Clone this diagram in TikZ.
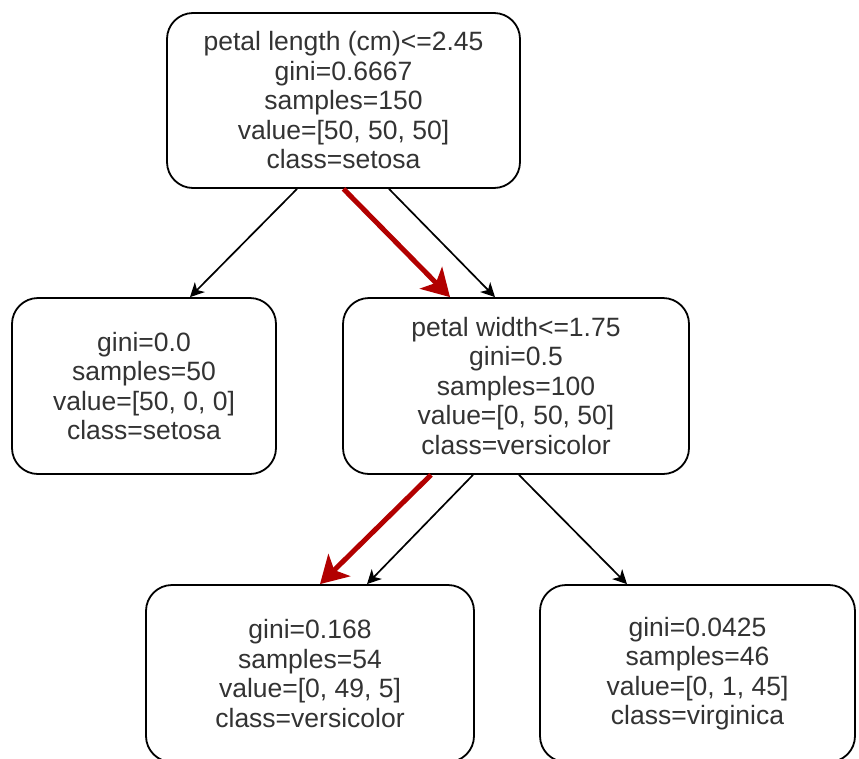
\documentclass[tikz,border=0pt]{standalone}
\usepackage{fontspec}
\setmainfont{Liberation Sans}
\usetikzlibrary{arrows.meta}
\definecolor{pathred}{HTML}{B20000}
\definecolor{txt}{HTML}{333333}
\tikzset{
  treenode/.style={draw=black, line width=1.8pt, rounded corners=26pt, fill=white,
    inner sep=0pt, align=center, text=txt,
    font=\fontsize{26.5}{29.5}\selectfont},
  edge/.style={draw=black, line width=1.7pt, -{Stealth[length=14pt,width=14pt,inset=4pt]}},
  hot/.style={draw=pathred, line width=5pt, -{Stealth[length=27pt,width=31pt,inset=7pt]}}
}
\begin{document}
\begin{tikzpicture}[x=1pt, y=-1pt]
  \clip (0,0) rectangle (859,758);
  \fill[white] (0,0) rectangle (859,758);

  % tree nodes
  \node[treenode, minimum width=353pt, minimum height=175pt] (root) at (343.5,100.5)
    {petal length (cm)<=2.45\\gini=0.6667\\samples=150\\value=[50, 50, 50]\\class=setosa};
  \node[treenode, minimum width=264pt, minimum height=176pt] (left) at (144,386)
    {gini=0.0\\samples=50\\value=[50, 0, 0]\\class=setosa};
  \node[treenode, minimum width=346pt, minimum height=176pt] (mid) at (516,386)
    {petal width<=1.75\\gini=0.5\\samples=100\\value=[0, 50, 50]\\class=versicolor};
  \node[treenode, minimum width=328pt, minimum height=177pt] (bl) at (310,673.5)
    {gini=0.168\\samples=54\\value=[0, 49, 5]\\class=versicolor};
  \node[treenode, minimum width=315pt, minimum height=177pt] (br) at (697.5,673.5)
    {gini=0.0425\\samples=46\\value=[0, 1, 45]\\class=virginica};

  % splits
  \draw[edge] ([xshift=-46.5pt]root.south) -- ([xshift=46pt]left.north);
  \draw[edge] ([xshift=45.5pt]root.south) -- ([xshift=-21pt]mid.north);
  \draw[edge] ([xshift=-43pt]mid.south) -- ([xshift=57pt]bl.north);
  \draw[edge] ([xshift=3pt]mid.south) -- ([xshift=-70.5pt]br.north);

  % decision path
  \draw[hot] ([xshift=0pt]root.south) -- ([xshift=-66pt]mid.north);
  \draw[hot] ([xshift=-85pt]mid.south) -- ([xshift=10pt]bl.north);
\end{tikzpicture}
\end{document}
